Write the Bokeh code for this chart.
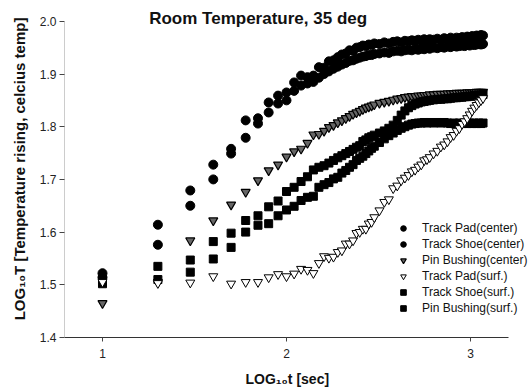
import math
from bokeh.plotting import figure
from bokeh.models import Range1d, FixedTicker, Legend, LegendItem, Label, PrintfTickFormatter
from bokeh.embed import file_html
from bokeh.resources import INLINE

# sampling times (seconds)
t_sec = [10, 20, 30, 40, 50, 60, 70, 80, 90, 100, 110, 120, 130, 140, 150, 160, 170, 180, 190, 200,
         210, 220, 230, 240, 250, 260, 270, 280, 290, 300, 320, 340, 360, 380, 400, 420, 440, 460, 480, 500,
         520, 540, 560, 580, 600, 630, 660, 690, 720, 750, 780, 810, 840, 870, 900, 930, 960, 990, 1020, 1050,
         1080, 1110, 1140, 1170]

# log10 of temperature rise
track_pad_center = [1.522, 1.614, 1.679, 1.728, 1.758, 1.812, 1.816, 1.846, 1.859, 1.865, 1.884, 1.897, 1.894, 1.897, 1.913, 1.912, 1.924, 1.926, 1.932, 1.937,
                    1.939, 1.945, 1.944, 1.950, 1.951, 1.954, 1.953, 1.956, 1.955, 1.958, 1.957, 1.960, 1.958, 1.961, 1.962, 1.960, 1.963, 1.962, 1.964, 1.963,
                    1.965, 1.963, 1.966, 1.964, 1.966, 1.965, 1.967, 1.965, 1.968, 1.966, 1.969, 1.967, 1.969, 1.968, 1.970, 1.969, 1.971, 1.970, 1.972, 1.971,
                    1.973, 1.972, 1.974, 1.973]
track_shoe_center = [1.514, 1.576, 1.650, 1.700, 1.749, 1.779, 1.806, 1.827, 1.844, 1.850, 1.868, 1.878, 1.882, 1.885, 1.893, 1.900, 1.905, 1.910, 1.914, 1.918,
                     1.921, 1.925, 1.926, 1.929, 1.931, 1.933, 1.934, 1.936, 1.936, 1.938, 1.939, 1.941, 1.940, 1.943, 1.944, 1.943, 1.945, 1.946, 1.945, 1.947,
                     1.946, 1.948, 1.947, 1.949, 1.948, 1.950, 1.949, 1.951, 1.950, 1.952, 1.951, 1.953, 1.952, 1.953, 1.954, 1.953, 1.955, 1.954, 1.956, 1.955,
                     1.956, 1.957, 1.956, 1.957]
pin_bushing_center = [1.465, 1.505, 1.584, 1.622, 1.652, 1.676, 1.698, 1.717, 1.728, 1.743, 1.753, 1.758, 1.769, 1.785, 1.786, 1.792, 1.799, 1.803, 1.808, 1.812,
                      1.816, 1.820, 1.824, 1.827, 1.830, 1.833, 1.836, 1.838, 1.840, 1.842, 1.845, 1.847, 1.849, 1.851, 1.853, 1.854, 1.856, 1.857, 1.858, 1.858,
                      1.859, 1.859, 1.860, 1.860, 1.861, 1.861, 1.862, 1.862, 1.862, 1.863, 1.863, 1.863, 1.864, 1.864, 1.864, 1.864, 1.865, 1.865, 1.865, 1.865,
                      1.866, 1.866, 1.866, 1.866]
track_pad_surf = [1.505, 1.503, 1.504, 1.516, 1.502, 1.505, 1.505, 1.514, 1.520, 1.516, 1.521, 1.530, 1.528, 1.522, 1.541, 1.554, 1.551, 1.553, 1.562, 1.565,
                  1.578, 1.578, 1.584, 1.598, 1.600, 1.606, 1.606, 1.616, 1.619, 1.628, 1.641, 1.657, 1.662, 1.683, 1.688, 1.698, 1.703, 1.708, 1.715, 1.718,
                  1.724, 1.728, 1.736, 1.738, 1.742, 1.749, 1.754, 1.762, 1.766, 1.772, 1.780, 1.784, 1.792, 1.797, 1.805, 1.810, 1.816, 1.823, 1.830, 1.836,
                  1.841, 1.846, 1.850, 1.854]
track_shoe_surf = [1.510, 1.535, 1.547, 1.582, 1.598, 1.622, 1.631, 1.648, 1.659, 1.677, 1.685, 1.696, 1.705, 1.718, 1.723, 1.726, 1.731, 1.736, 1.741, 1.745,
                   1.749, 1.753, 1.757, 1.761, 1.764, 1.772, 1.775, 1.779, 1.781, 1.784, 1.788, 1.792, 1.797, 1.803, 1.812, 1.822, 1.830, 1.836, 1.840, 1.843,
                   1.845, 1.847, 1.848, 1.849, 1.850, 1.851, 1.852, 1.852, 1.853, 1.853, 1.854, 1.855, 1.855, 1.856, 1.856, 1.857, 1.857, 1.858, 1.858, 1.859,
                   1.859, 1.860, 1.860, 1.861]
pin_bushing_surf = [1.502, 1.510, 1.524, 1.549, 1.571, 1.600, 1.613, 1.616, 1.631, 1.642, 1.649, 1.660, 1.666, 1.668, 1.685, 1.690, 1.694, 1.701, 1.704, 1.712,
                    1.717, 1.723, 1.728, 1.736, 1.740, 1.744, 1.749, 1.754, 1.759, 1.763, 1.770, 1.777, 1.783, 1.788, 1.793, 1.797, 1.800, 1.803, 1.805, 1.806,
                    1.807, 1.807, 1.808, 1.807, 1.808, 1.807, 1.808, 1.807, 1.808, 1.807, 1.806, 1.807, 1.806, 1.807, 1.806, 1.807, 1.806, 1.807, 1.806, 1.807,
                    1.806, 1.807, 1.806, 1.807]

x_ticks = [1, 2, 3]
y_ticks = [1.4, 1.5, 1.6, 1.7, 1.8, 1.9, 2.0]
series_labels = ["Track Pad(center)", "Track Shoe(center)", "Pin Bushing(center)",
                 "Track Pad(surf.)", "Track Shoe(surf.)", "Pin Bushing(surf.)"]

log_t = [math.log10(t) for t in t_sec]

FONT = "Liberation Sans"

p = figure(width=529, height=392, output_backend="svg", toolbar_location=None, title=None,
           x_range=Range1d(0.7935, 3.3207), y_range=Range1d(1.4, 2.0395),
           min_border_left=64, min_border_right=0, min_border_top=0, min_border_bottom=55)
p.outline_line_color = None
p.grid.visible = False
p.background_fill_color = "white"
p.border_fill_color = "white"

p.xaxis.ticker = FixedTicker(ticks=x_ticks, minor_ticks=[])
p.yaxis.ticker = FixedTicker(ticks=y_ticks, minor_ticks=[])
p.xaxis.formatter = PrintfTickFormatter(format="%d")
p.yaxis.formatter = PrintfTickFormatter(format="%.1f")
p.xaxis.bounds = (0.7935, 3.2065)
p.yaxis.bounds = (1.4, 2.0)

for ax in (p.xaxis, p.yaxis):
    ax.major_tick_in = 0
    ax.minor_tick_in = 0
    ax.minor_tick_out = 0
    ax.major_label_text_font = FONT
    ax.major_label_text_font_size = "12px"
    ax.major_label_text_color = "#222222"
    ax.axis_label_text_font = FONT
    ax.axis_label_text_font_style = "bold"
    ax.axis_label_text_color = "#111111"
    ax.major_tick_line_color = "#444444"

p.xaxis.major_tick_out = 4
p.xaxis.major_label_standoff = 7
p.xaxis.axis_label_standoff = 10
# trailing no-break spaces shift the centred label to the centre of the drawn axis
p.xaxis.axis_label = "LOG\u2081\u2080t [sec]" + "\u00a0" * 5
p.xaxis.axis_label_text_font_size = "14px"
p.xaxis.axis_line_color = "#333333"

p.yaxis.major_tick_out = 5
p.yaxis.major_label_standoff = 3
p.yaxis.axis_label_standoff = 9
p.yaxis.axis_label = "LOG\u2081\u2080T [Temperature rising, celcius temp]"
p.yaxis.axis_label_text_font_size = "15px"
p.yaxis.axis_line_color = "#999999"
p.yaxis.axis_line_dash = "1 1"

r1 = p.scatter(log_t, track_pad_center, marker="circle", size=9, fill_color="black", line_color="black")
r2 = p.scatter(log_t, track_shoe_center, marker="circle", size=9, fill_color="black", line_color="black")
r3 = p.scatter(log_t, pin_bushing_center, marker="inverted_triangle", size=9, fill_color="#666666", line_color="black", line_width=1.2)
r5 = p.scatter(log_t, track_shoe_surf, marker="square", size=8, fill_color="black", line_color="black")
r6 = p.scatter(log_t, pin_bushing_surf, marker="square", size=8, fill_color="black", line_color="black")
r4 = p.scatter(log_t, track_pad_surf, marker="inverted_triangle", size=9, fill_color="white", line_color="black", line_width=1)

legend = Legend(items=[LegendItem(label=lab, renderers=[r]) for lab, r in zip(series_labels, [r1, r2, r3, r4, r5, r6])],
                location=(332, 22), padding=0, margin=0, spacing=2,
                glyph_width=14, glyph_height=14, label_height=14, label_standoff=12,
                label_text_font=FONT, label_text_font_size="12px", label_text_color="#111111",
                border_line_color=None, background_fill_alpha=0)
p.add_layout(legend, "center")

title = Label(x=1.846, y=2.0044, text="Room Temperature, 35 deg", text_align="center", text_baseline="alphabetic",
              text_font=FONT, text_font_style="bold", text_font_size="17px", text_color="#111111")
p.add_layout(title)

open("out.html", "w").write(file_html(p, INLINE))
